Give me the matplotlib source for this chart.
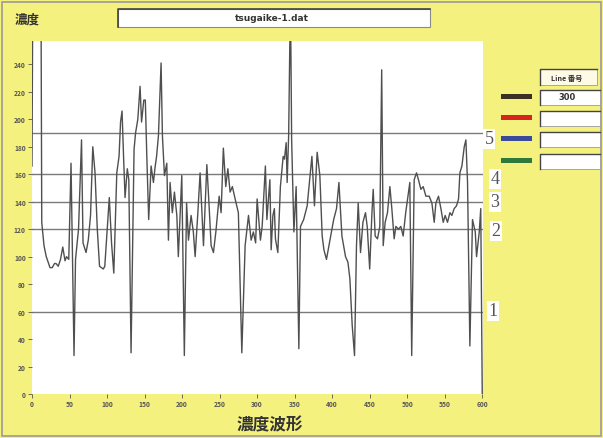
import matplotlib
matplotlib.use("Agg")
import matplotlib.pyplot as plt
from matplotlib.patches import Rectangle

# 濃度波形 (tsugaike-1.dat)
pos = [0, 1, 12, 13, 16, 19, 24, 27, 30, 32, 35, 38, 41, 44, 46, 49, 52, 56, 58, 62,
       66, 68, 72, 75, 78, 81, 84, 87, 90, 95, 97, 103, 106, 109, 113, 116, 118, 120,
       122, 124, 127, 129, 132, 136, 138, 141, 144, 146, 149, 151, 153, 155.5, 158.7,
       161.8, 164, 166, 168.5, 172, 173.8, 176.5, 179.6, 181.8, 184, 187, 189.8, 193,
       195, 199.6, 203, 206, 208.5, 212, 215, 217.4, 221, 224, 228.5, 233, 236, 238.7,
       241.8, 245, 249.4, 252, 255, 258.2, 261, 264, 267, 270.7, 275, 279.6, 284,
       288.5, 292, 295, 298, 300, 304.4, 306.7, 311, 313, 317, 318.7, 321, 323, 324.4,
       327.6, 331, 334.7, 336.4, 338.7, 340, 342, 344.4, 346, 349, 352, 355.6, 357.8,
       362, 366.7, 370, 373, 376.4, 380, 383.6, 386.7, 389, 392.4, 397, 402, 405.8,
       409, 413, 417.8, 421, 423.6, 426.7, 429.8, 432.4, 434.7, 437.8, 441, 444.4,
       446.7, 450, 453, 454.7, 457.3, 460.4, 463.5, 466, 468, 470.6, 473.7, 476.9,
       479.5, 482.6, 484.9, 488.4, 491.5, 494.6, 498, 501.7, 503.5, 506, 509.3, 512.4,
       515, 518.2, 521.3, 524.9, 529.3, 532.9, 536, 538.2, 541.7, 544.9, 548, 550.6,
       553.7, 556.9, 559.5, 562.6, 565.7, 568.4, 570.2, 572.9, 576, 578.2, 580.4,
       583.5, 587, 590.7, 592.4, 596, 598, 600]
conc = [166, 290, 290, 125, 108, 100, 92, 92, 95, 95, 93, 98, 107, 97, 100, 98, 168, 28, 98, 120,
        185, 110, 103, 112, 130, 180, 161, 120, 93, 91, 93, 143, 110, 88, 161, 173, 198, 206,
        173, 143, 164, 156, 30, 178, 190, 200, 224, 198, 214, 214, 173, 127, 166,
        154, 165, 173, 188, 241, 188, 159, 168, 112, 154, 132, 147, 130,
        100, 159, 28, 139, 112, 130, 118, 100, 132, 161, 108, 167, 137, 108,
        103, 118, 144, 132, 179, 151, 164, 147, 151, 142, 132, 30, 108,
        130, 112, 118, 110, 142, 112, 122, 166, 127, 156, 105, 130, 135, 113,
        103, 151, 173, 171, 183, 154, 188, 290, 185, 118, 151, 33, 122,
        127, 137, 156, 173, 137, 176, 159, 115, 105, 98, 112, 127, 135,
        154, 115, 100, 96, 84, 50, 28, 108, 139, 103, 125, 132,
        122, 91, 132, 149, 115, 113, 122, 236, 108, 125, 132, 151,
        135, 113, 122, 120, 122, 115, 132, 147, 154, 28, 156, 161,
        156, 149, 151, 144, 144, 139, 125, 139, 144, 135, 125, 130,
        125, 132, 130, 135, 137, 142, 161, 166, 180, 185, 154,
        35, 127, 118, 100, 118, 135, 0]

line_levels = [60, 120, 140, 160, 190]
line_names = ["1", "2", "3", "4", "5"]
label_px = [(493, 312), (496, 232), (495, 203), (495, 180), (489, 140)]

legend_colors = ["#3b3024", "#d8241f", "#3a4b9c", "#2f7a3a"]
legend_values = ["300", "", "", ""]

xticks = list(range(0, 601, 50))
yticks = list(range(0, 241, 20))

W, H = 603, 439
YELLOW = "#f5f17f"
plt.rcParams['font.family'] = ['Noto Sans CJK JP', 'DejaVu Sans']


def fx(x):
    return x / W


def fy(y):
    return 1 - y / H


fig = plt.figure(figsize=(W / 100, H / 100), dpi=100, facecolor=YELLOW)

# outer frame
fig.patches.append(Rectangle((fx(2), fy(437)), fx(599), 434 / H, transform=fig.transFigure,
                             fill=False, edgecolor="#9a9a9a", lw=1.2))

ax = fig.add_axes([fx(32), fy(395), fx(483) - fx(32), fy(42) - fy(395)])
ax.set_facecolor("white")
for s in ax.spines.values():
    s.set_visible(False)

for lv in line_levels:
    ax.axhline(lv, color="#7a7a7a", lw=1.0, zorder=1)
ax.plot(pos, conc, color="#4f4f4f", lw=1.0, zorder=2)

ax.set_xlim(0, 601)
ax.set_ylim(0, 257)
ax.set_xticks(xticks)
ax.set_yticks(yticks)
ax.tick_params(axis="both", direction="out", length=3, width=0.6, color="#555555",
               labelsize=4.8, labelcolor="#555555", pad=1.5)
for lab in ax.get_xticklabels() + ax.get_yticklabels():
    lab.set_fontweight("bold")

# line number labels
for name, (px, py) in zip(line_names, label_px):
    fig.text(fx(px), fy(py), name, ha="center", va="center", fontsize=13,
             family=["Liberation Serif", "DejaVu Serif"], color="#555555",
             bbox=dict(facecolor="white", edgecolor="none", pad=1.0))

# header
fig.text(fx(27), fy(20), "濃度", ha="center", va="center", fontsize=9,
         fontweight="bold", color="#333333")
fig.patches.append(Rectangle((fx(118), fy(28)), fx(312), 18 / H, transform=fig.transFigure,
                             facecolor="white", edgecolor="#8a8a8a", lw=0.8))
fig.lines.append(plt.Line2D([fx(118), fx(118), fx(430)], [fy(28), fy(10), fy(10)],
                            transform=fig.transFigure, color="#444444", lw=1.2))
fig.text(fx(272), fy(18.5), "tsugaike-1.dat", ha="center", va="center", fontsize=6.5,
         fontweight="bold", family=["DejaVu Sans"], color="#333333")

# footer
fig.text(fx(270), fy(425), "濃度波形", ha="center", va="center", fontsize=12,
         fontweight="bold", color="#333333")

# legend panel
fig.patches.append(Rectangle((fx(540), fy(86)), fx(57), 16 / H, transform=fig.transFigure,
                             facecolor="#fdfbe6", edgecolor="#9a9a9a", lw=0.6))
fig.lines.append(plt.Line2D([fx(540), fx(540), fx(597)], [fy(86), fy(70), fy(70)],
                            transform=fig.transFigure, color="#444444", lw=1.0))
fig.text(fx(567), fy(78), "Line 番号", ha="center", va="center", fontsize=5.2,
         fontweight="bold", color="#333333")
row_tops = [91, 112, 133, 155]
for top, col, val in zip(row_tops, legend_colors, legend_values):
    fig.patches.append(Rectangle((fx(540), fy(top + 15)), fx(60), 15 / H,
                                 transform=fig.transFigure, facecolor="white",
                                 edgecolor="#9a9a9a", lw=0.6))
    fig.lines.append(plt.Line2D([fx(540), fx(540), fx(600)], [fy(top + 15), fy(top), fy(top)],
                                transform=fig.transFigure, color="#444444", lw=1.0))
    fig.patches.append(Rectangle((fx(501), fy(top + 9)), fx(31), 5 / H,
                                 transform=fig.transFigure, facecolor=col, edgecolor="none"))
    if val:
        fig.text(fx(567), fy(top + 7), val, ha="center", va="center", fontsize=6,
                 fontweight="bold", family=["DejaVu Sans"], color="#333333")

fig.savefig("out.png", dpi=100, facecolor=YELLOW)
